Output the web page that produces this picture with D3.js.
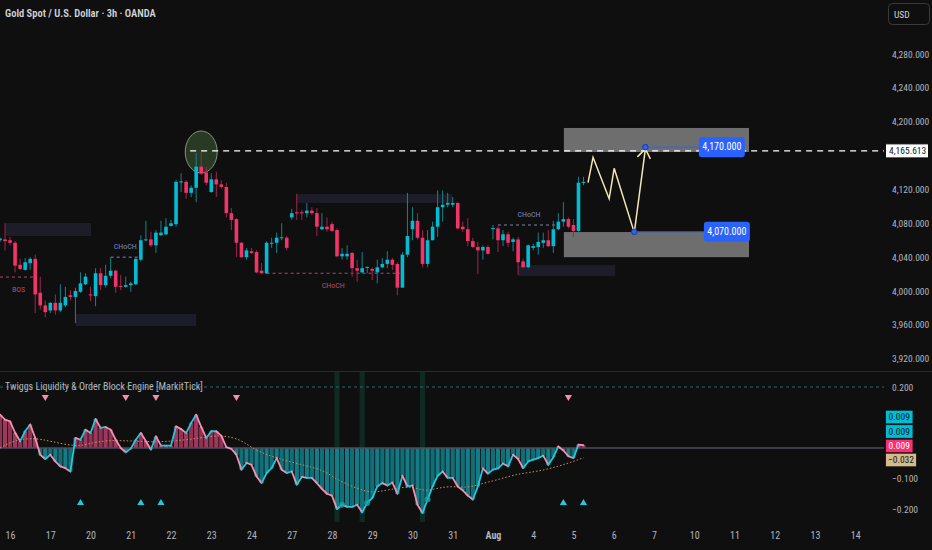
<!DOCTYPE html>
<html>
<head>
<meta charset="UTF-8">
<title>Gold Spot / U.S. Dollar · 3h · OANDA</title>
<script src="https://cdn.jsdelivr.net/npm/d3@7"></script>
<style>
body { margin: 0; background: #0f0f0f; }
svg { display: block; }
text { font-family: "Liberation Sans Narrow", "Roboto Condensed", Roboto, sans-serif; }
</style>
</head>
<body>
<svg id="chart" width="932" height="550"></svg>
<script>
// 3h candles, [open, high, low, close]
var candles = [
 [4060,4063,4058,4062],[4061,4080,4048,4059],[4060,4064,4054,4057],[4057,4059,4022,4030],
 [4031,4038,4025,4026],[4025,4039,4024,4034],[4033,4040,4025,4038],[4038,4043,3974,3996],
 [3998,4017,3978,3983],[3983,3989,3969,3975],[3977,3987,3974,3986],[3986,3996,3972,3977],
 [3977,4008,3975,3986],[3983,4005,3981,3993],[3995,4001,3989,3993],[3993,4004,3962,4000],
 [3999,4022,3998,4009],[4008,4021,4007,4017],[3996,4005,3988,3995],[3994,4027,3982,4021],
 [4021,4027,4001,4007],[4007,4031,4004,4018],[4018,4040,4015,4024],[4024,4025,3998,4005],
 [4006,4019,4001,4005],[4005,4017,4004,4007],[4007,4011,3999,4009],[4008,4040,4007,4038],
 [4037,4066,4035,4060],[4060,4083,4059,4061],[4061,4070,4052,4054],[4054,4072,4045,4069],
 [4066,4083,4065,4069],[4067,4086,4066,4076],[4077,4084,4076,4080],[4079,4131,4076,4129],
 [4129,4139,4117,4129.5],[4129,4131,4109,4116],[4116,4125,4111,4122],[4122,4163,4105,4147],
 [4147,4164,4137,4139],[4140,4147,4125,4128],[4117,4139,4116,4132],[4132,4141,4111,4126],
 [4126,4131,4121,4123],[4123,4128,4087,4092],[4092,4098,4072,4084],[4085,4086,4040,4057],
 [4057,4058,4039,4040],[4040,4051,4037,4048],[4047,4051,4044,4045],[4046,4048,4021,4022],
 [4024,4033,4020,4021],[4021,4059,4020,4057],[4056,4063,4051,4057],[4057,4069,4045,4063],
 [4063,4080,4060,4063.5],[4063,4065,4048,4051],[4087,4097,4084,4092],[4093,4115,4084,4092],
 [4093,4096,4084,4092],[4092,4104,4087,4095],[4095,4099,4090,4092],[4092,4098,4065,4076],
 [4073,4092,4072,4076],[4076,4087,4070,4073],[4079,4082,4070,4071],[4072,4074,4040,4041],
 [4041,4051,4037,4044],[4041,4054,4037,4044],[4045,4046,4017,4027],[4027,4037,4011,4024],
 [4022,4046,4021,4027],[4028,4029,4021,4028.5],[4026,4028,4013,4024],[4022,4037,4009,4028],
 [4028,4039,4027,4032],[4032,4047,4027,4037],[4037,4039,4025,4031],[4032,4034,3995,4004],
 [4004,4046,4004,4043],[4043,4116,4040,4065],[4073,4099,4060,4083],[4083,4092,4061,4063],
 [4063,4072,4028,4032],[4032,4072,4028,4060],[4060,4082,4060,4076],[4076,4119,4064,4099],
 [4099,4119,4082,4102],[4102,4116,4099,4104],[4102,4111,4099,4104],[4104,4105,4073,4074],
 [4076,4082,4070,4073],[4073,4086,4053,4059],[4059,4063,4051,4052],[4052,4058,4020,4048],
 [4048,4054,4037,4052],[4052,4054,4043,4044],[4074,4078,4061,4074.5],[4074,4077,4046,4060],
 [4060,4072,4053,4067],[4067,4070,4052,4057],[4058,4063,4047,4061],[4061,4064,4019,4034],
 [4035,4038,4028,4028],[4028,4055,4027,4054],[4051,4056,4048,4053],[4052,4069,4043,4058],
 [4057,4069,4051,4060],[4060,4072,4052,4053],[4053,4083,4045,4073],[4073,4092,4072,4082],
 [4082,4105,4076,4085],[4085,4087,4074,4076],[4078,4085,4064,4071],[4071,4135,4070,4128],
 [4128,4135,4125,4129]
];

// oscillator (one value per candle)
var osc = [
 0.109,0.093,0.087,0.050,0.022,0.055,0.077,0.033,-0.022,-0.036,
 -0.022,-0.044,-0.060,-0.066,-0.077,0.033,0.027,0.060,0.049,0.095,
 0.066,0.069,0.060,0.027,0.000,-0.014,-0.002,0.027,0.049,0.022,
 -0.005,0.038,0.008,0.008,0.008,0.071,0.062,0.049,0.082,0.109,
 0.069,0.033,0.055,0.055,0.040,0.003,-0.003,-0.022,-0.071,-0.049,
 -0.055,-0.093,-0.115,-0.082,-0.066,-0.033,-0.071,-0.082,-0.077,-0.120,
 -0.095,-0.098,-0.098,-0.115,-0.134,-0.150,-0.156,-0.200,-0.186,-0.193,
 -0.193,-0.186,-0.211,-0.180,-0.164,-0.126,-0.115,-0.123,-0.113,-0.150,
 -0.091,-0.126,-0.123,-0.186,-0.213,-0.169,-0.126,-0.091,-0.077,-0.098,
 -0.098,-0.126,-0.139,-0.156,-0.169,-0.126,-0.067,-0.084,-0.071,-0.067,
 -0.051,-0.060,-0.022,-0.036,-0.066,-0.044,-0.038,-0.033,-0.025,-0.055,
 -0.030,0.005,-0.008,-0.027,-0.033,0.011,0.009
];

// signal line samples
var sigIdx = [0,3,7,10,15,17,21,27,33,40,44,48,50,53,56,60,64,66,69,73,75,79,82,84,86,89,93,95,99,103,107,111,114,116];
var sigVal = [0.000,0.027,0.033,0.022,0.005,0.011,0.027,0.022,0.019,0.033,0.044,0.027,0.000,-0.022,-0.038,-0.055,-0.071,-0.093,-0.120,-0.145,-0.145,-0.131,-0.126,-0.140,-0.137,-0.124,-0.131,-0.120,-0.104,-0.084,-0.077,-0.060,-0.044,-0.032];

var priceTicks = [3920,3960,4000,4040,4080,4120,4200,4240,4280];
var oscTicks = [0.2,-0.1,-0.2];
var dayLabels = ["16","17","20","21","22","23","24","27","28","29","30","31","Aug","4","5","6","7","10","11","12","13","14"];
var dayIdx = [2,10,18,26,34,42,50,58,66,74,82,90,98,106,114,122,130,138,146,154,162,170];

var lastPrice = 4165.613;
var lastFrom = 37.8;

// order blocks [fromIdx, toIdx, top, bottom]
var blocks = [[1,18.1,4080.4,4065],[15.1,39,3972.8,3958.6],[59,89.9,4114.6,4104],[103,122.3,4030.7,4017.7]];
// structure breaks [label, fromIdx, toIdx, price, kind]
var breaks = [["BOS",0,7.4,4016.5,"bear"],["CHoCH",22,27.8,4040,"bull"],["CHoCH",53,79.5,4021,"bear"],["CHoCH",99,111.3,4078,"bull"]];
// target zones [fromIdx, toIdx, top, bottom]
var zones = [[112.1,148.9,4192.7,4164.3],[112.1,148.9,4069.7,4040]];
// projected path
var projIdx = [116.9,117.9,121.1,122.1,126.1,128.3];
var projPrice = [4128,4158,4109,4145,4069,4168];
// targets [price, dotIdx, labelIdx]
var targets = [[4170,128.3,143.5],[4070,126.1,144.5]];
var peakIdx = 40, peakPrice = 4164.3;

var sellIdx = [9,25,31,47,113];
var buyIdx = [16,28,32,112,116];
var bandIdx = [67,72,84];
var dotIdx = [68,73,85];

var UP = "#00bcd4", DOWN = "#f23468", UPW = "#16838c", DOWNW = "#a3244f";
var AXT = "#b2b5be";
var plotR = 884;

var svg = d3.select("#chart");
svg.append("rect").attr("width", 932).attr("height", 550).attr("fill", "#0f0f0f");

var x = d3.scaleLinear().domain([0,116]).range([0,583.5]);
var y = d3.scaleLinear().domain([3920,4280]).range([358.7,54.1]);
var yo = d3.scaleLinear().domain([-0.2,0.2]).range([509,387]);

var defs = svg.append("defs");
defs.append("clipPath").attr("id","cp").append("rect").attr("x",0).attr("y",30).attr("width",plotR).attr("height",340);
defs.append("clipPath").attr("id","co").append("rect").attr("x",0).attr("y",372).attr("width",plotR).attr("height",150);

var main = svg.append("g").attr("clip-path","url(#cp)");

// order blocks
main.selectAll(".ob").data(blocks).enter().append("rect")
  .attr("x", function(d){ return x(d[0]); })
  .attr("width", function(d){ return x(d[1]) - x(d[0]); })
  .attr("y", function(d){ return y(d[2]); })
  .attr("height", function(d){ return y(d[3]) - y(d[2]); })
  .attr("fill", "#1d1c29");

// target zones
main.selectAll(".zone").data(zones).enter().append("rect")
  .attr("x", function(d){ return x(d[0]); })
  .attr("width", function(d){ return x(d[1]) - x(d[0]); })
  .attr("y", function(d){ return y(d[2]); })
  .attr("height", function(d){ return y(d[3]) - y(d[2]); })
  .attr("fill", "#6e6e6e");

// peak marker
main.append("ellipse")
  .attr("cx", x(peakIdx)).attr("cy", y(peakPrice)).attr("rx", 16).attr("ry", 21)
  .attr("fill", "rgba(70,110,60,0.45)").attr("stroke", "#7d957a").attr("stroke-width", 1);

// structure breaks
breaks.forEach(function(b){
  var col = b[4] === "bull" ? "#7c86b3" : "#b44a6a";
  main.append("line")
    .attr("x1", x(b[1])).attr("x2", x(b[2])).attr("y1", y(b[3])).attr("y2", y(b[3]))
    .attr("stroke", col).attr("stroke-width", 1).attr("stroke-dasharray", "3,3");
  main.append("text")
    .attr("x", (x(b[1]) + x(b[2])) / 2 + (b[0] === "BOS" ? 0 : 0))
    .attr("y", y(b[3]) + (b[4] === "bull" ? -10 : 13))
    .attr("text-anchor", "middle").attr("dominant-baseline", "middle")
    .attr("font-size", 8).attr("fill", col).text(b[0]);
});

// candles
var cg = main.append("g");
candles.forEach(function(c, i){
  var up = c[3] >= c[0];
  cg.append("line")
    .attr("x1", x(i)).attr("x2", x(i)).attr("y1", y(c[1])).attr("y2", y(c[2]))
    .attr("stroke", up ? UPW : DOWNW).attr("stroke-width", 1);
  var top = y(Math.max(c[0], c[3])), bot = y(Math.min(c[0], c[3]));
  cg.append("rect")
    .attr("x", x(i) - 1.8).attr("width", 3.6)
    .attr("y", top).attr("height", Math.max(1, bot - top))
    .attr("fill", up ? UP : DOWN);
});

// last price dashed line
main.append("line")
  .attr("x1", x(lastFrom)).attr("x2", plotR).attr("y1", y(lastPrice)).attr("y2", y(lastPrice))
  .attr("stroke", "#ffffff").attr("stroke-width", 1.3).attr("stroke-dasharray", "6,5");

// projected path
main.append("path")
  .attr("d", d3.line().x(function(d){ return x(d); }).y(function(d, i){ return y(projPrice[i]); })(projIdx))
  .attr("fill", "none").attr("stroke", "#f3e6b3").attr("stroke-width", 1.5);
var tip = [x(projIdx[5]), y(projPrice[5])];
main.append("path")
  .attr("d", "M" + (tip[0] - 8) + "," + (tip[1] + 8) + "L" + tip[0] + "," + tip[1] + "L" + (tip[0] + 5) + "," + (tip[1] + 10))
  .attr("fill", "none").attr("stroke", "#f3e6b3").attr("stroke-width", 1.5);

// targets
targets.forEach(function(t){
  main.append("line")
    .attr("x1", x(t[1])).attr("x2", x(t[2])).attr("y1", y(t[0])).attr("y2", y(t[0]))
    .attr("stroke", "#2962ff").attr("stroke-width", 1);
  main.append("circle").attr("cx", x(t[1])).attr("cy", y(t[0])).attr("r", 2.8)
    .attr("fill", "#2962ff").attr("stroke", "#1a3a99").attr("stroke-width", 1);
  main.append("rect").attr("x", x(t[2]) - 23).attr("y", y(t[0]) - 10).attr("width", 46).attr("height", 20)
    .attr("rx", 3).attr("fill", "#2962ff");
  main.append("text").attr("x", x(t[2])).attr("y", y(t[0]) + 0.5)
    .attr("text-anchor", "middle").attr("dominant-baseline", "middle")
    .attr("font-size", 10).attr("fill", "#ffffff").text(d3.format(",.3f")(t[0]));
});

// title
svg.append("text").attr("x", 5).attr("y", 17).attr("font-size", 10.5).attr("font-weight", 600)
  .attr("fill", "#d1d4dc").text("Gold Spot / U.S. Dollar · 3h · OANDA");

// USD box
svg.append("rect").attr("x", 888.5).attr("y", 3.5).attr("width", 41).attr("height", 21).attr("rx", 4)
  .attr("fill", "none").attr("stroke", "#3a3a3a");
svg.append("text").attr("x", 894).attr("y", 17.5).attr("font-size", 9.5).attr("fill", "#d1d4dc").text("USD");

// price axis
var pa = svg.append("g").attr("transform", "translate(892,0)")
  .call(d3.axisRight(y).tickValues(priceTicks).tickFormat(d3.format(",.3f")).tickSize(0).tickPadding(0));
pa.select(".domain").remove();
pa.selectAll("text").attr("fill", AXT).attr("font-size", 9.5).style("font-family", null);

svg.append("rect").attr("x", 885.5).attr("y", y(lastPrice) - 7).attr("width", 43).attr("height", 14)
  .attr("fill", "#ffffff").attr("stroke", "#0f0f0f");
svg.append("text").attr("x", 889).attr("y", y(lastPrice) + 0.5).attr("dominant-baseline", "middle")
  .attr("font-size", 9.5).attr("fill", "#131722").text(d3.format(",.3f")(lastPrice));

// pane separator
svg.append("line").attr("x1", 0).attr("x2", 932).attr("y1", 371.5).attr("y2", 371.5)
  .attr("stroke", "#2a2a2a").attr("stroke-width", 1);

// oscillator pane
var op = svg.append("g").attr("clip-path", "url(#co)");

op.selectAll(".band").data(bandIdx).enter().append("rect")
  .attr("x", function(d){ return x(d) - 2.6; }).attr("width", 5.2)
  .attr("y", 372).attr("height", 154).attr("fill", "#0f2a22");

op.append("line").attr("x1", 0).attr("x2", plotR).attr("y1", yo(0.2)).attr("y2", yo(0.2))
  .attr("stroke", "#1c6e72").attr("stroke-width", 1).attr("stroke-dasharray", "3,3");

op.selectAll(".bar").data(osc).enter().append("rect")
  .attr("x", function(d, i){ return x(i) - 2.1; }).attr("width", 4.2)
  .attr("y", function(d){ return Math.min(yo(d), yo(0)); })
  .attr("height", function(d){ return Math.abs(yo(d) - yo(0)); })
  .attr("fill", function(d, i){ return d >= 0 ? (i % 2 ? "#b8406a" : "#a8385f") : (i % 2 ? "#148f9b" : "#107f8a"); })
  .attr("opacity", 0.85);

op.append("line").attr("x1", 0).attr("x2", plotR).attr("y1", yo(0)).attr("y2", yo(0))
  .attr("stroke", "#4d4c5e").attr("stroke-width", 1.5);

op.append("path")
  .attr("d", d3.line().curve(d3.curveBasis).x(function(d){ return x(d); }).y(function(d, i){ return yo(sigVal[i]); })(sigIdx))
  .attr("fill", "none").attr("stroke", "#c8915c").attr("stroke-width", 1).attr("stroke-dasharray", "1.5,2");

for (var i = 1; i < osc.length; i++) {
  op.append("line")
    .attr("x1", x(i - 1)).attr("x2", x(i)).attr("y1", yo(osc[i - 1])).attr("y2", yo(osc[i]))
    .attr("stroke", osc[i] >= osc[i - 1] ? "#22c8dc" : "#f48fb1").attr("stroke-width", 1.8)
    .attr("stroke-linecap", "round");
}

op.selectAll(".dot").data(dotIdx).enter().append("circle")
  .attr("cx", function(d){ return x(d); }).attr("cy", function(d){ return yo(osc[d]); })
  .attr("r", 3).attr("fill", "#14a3ad").attr("opacity", 0.8);

op.selectAll(".sell").data(sellIdx).enter().append("path")
  .attr("d", d3.symbol().type(d3.symbolTriangle).size(22))
  .attr("transform", function(d){ return "translate(" + x(d) + ",397) rotate(180)"; })
  .attr("fill", "#f48fb1");
op.selectAll(".buy").data(buyIdx).enter().append("path")
  .attr("d", d3.symbol().type(d3.symbolTriangle).size(22))
  .attr("transform", function(d){ return "translate(" + x(d) + ",503)"; })
  .attr("fill", "#22c8dc");

svg.append("text").attr("x", 5).attr("y", 387).attr("dominant-baseline", "middle")
  .attr("font-size", 10).attr("fill", AXT).text("Twiggs Liquidity & Order Block Engine [MarkitTick]");

// oscillator axis
var oa = svg.append("g").attr("transform", "translate(892,0)")
  .call(d3.axisRight(yo).tickValues(oscTicks).tickFormat(d3.format(".3f")).tickSize(0).tickPadding(0));
oa.select(".domain").remove();
oa.selectAll("text").attr("fill", AXT).attr("font-size", 9.5).style("font-family", null);

var tags = [[0.009, 417, UP, "#131722"], [0.009, 431.5, UP, "#131722"], [0.009, 446, "#ff2e74", "#ffffff"], [-0.032, 460, "#d4bb8a", "#131722"]];
tags.forEach(function(t){
  var w = t[0] < 0 ? 31 : 27.5;
  svg.append("rect").attr("x", 885.5).attr("y", t[1] - 6.8).attr("width", w).attr("height", 13.6)
    .attr("fill", t[2]).attr("stroke", "#0f0f0f").attr("stroke-width", 0.8);
  svg.append("text").attr("x", 885.5 + w / 2).attr("y", t[1] + 0.5).attr("text-anchor", "middle")
    .attr("dominant-baseline", "middle").attr("font-size", 9.5).attr("fill", t[3]).text(d3.format(".3f")(t[0]).replace("-", "\u2212"));
});

// time axis
var ta = svg.append("g").attr("transform", "translate(0,532)")
  .call(d3.axisBottom(x).tickValues(dayIdx).tickFormat(function(d, i){ return dayLabels[i]; }).tickSize(0).tickPadding(0));
ta.select(".domain").remove();
ta.selectAll("text").attr("fill", AXT).attr("font-size", 10).style("font-family", null);
ta.selectAll("text").filter(function(d, i){ return dayLabels[i] === "Aug"; }).attr("font-weight", 700);
</script>
</body>
</html>
